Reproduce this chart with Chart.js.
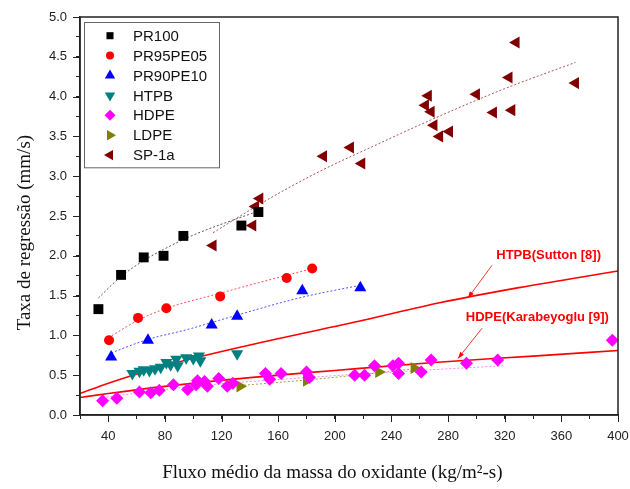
<!DOCTYPE html>
<html>
<head>
<meta charset="utf-8">
<script src="https://cdn.jsdelivr.net/npm/chart.js@4.4.1/dist/chart.umd.min.js"></script>
<style>
  html, body { margin: 0; padding: 0; background: #fff; }
  #wrap { width: 630px; height: 489px; }
</style>
</head>
<body>
<div id="wrap"><canvas id="regChart" width="630" height="489"></canvas></div>
<script>
// Measured points (x = oxidizer mass flux, y = regression rate)
const pr100X = [33, 49, 65, 79, 93, 134, 146];
const pr100Y = [1.33, 1.76, 1.98, 2.00, 2.25, 2.38, 2.55];

const pr95X = [40.5, 61, 81, 119, 166, 184];
const pr95Y = [0.94, 1.22, 1.34, 1.49, 1.72, 1.84];

const pr90X = [42, 68, 113, 131, 177, 218];
const pr90Y = [0.73, 0.94, 1.13, 1.24, 1.56, 1.60];

const htpbX = [57, 62, 65, 69, 73, 77, 81, 84, 88, 89, 95, 100, 104, 105, 131];
const htpbY = [0.52, 0.55, 0.57, 0.56, 0.58, 0.60, 0.66, 0.63, 0.70, 0.62, 0.72, 0.71, 0.74, 0.68, 0.77];

const hdpeX = [36, 46, 62, 70, 76, 86, 96, 102, 103, 108, 110, 118, 124, 128, 151, 154, 162, 180, 182, 214, 221, 228, 241, 245, 245, 261, 268, 293, 315, 396];
const hdpeY = [0.18, 0.21, 0.29, 0.28, 0.31, 0.38, 0.32, 0.38, 0.43, 0.42, 0.36, 0.46, 0.36, 0.40, 0.52, 0.45, 0.52, 0.54, 0.47, 0.50, 0.50, 0.62, 0.62, 0.65, 0.52, 0.54, 0.69, 0.65, 0.69, 0.94];

const ldpeX = [133, 180, 231, 256];
const ldpeY = [0.36, 0.43, 0.54, 0.59];

const spX = [114, 142, 144, 147, 192, 211, 219, 264, 266, 268, 270, 274, 281, 300, 312, 323, 325, 328, 370];
const spY = [2.13, 2.38, 2.62, 2.72, 3.25, 3.36, 3.16, 3.89, 4.01, 3.81, 3.64, 3.50, 3.56, 4.03, 3.80, 4.24, 3.83, 4.68, 4.17];

// Dotted fit curves
const fitPr100X = [33, 49, 65, 79, 100, 133, 146];
const fitPr100Y = [1.47, 1.74, 1.94, 2.08, 2.26, 2.48, 2.56];
const fitPr95X = [40, 61, 81, 119, 150, 184];
const fitPr95Y = [0.97, 1.19, 1.34, 1.53, 1.68, 1.84];
const fitPr90X = [42, 68, 95, 130, 177, 218];
const fitPr90Y = [0.78, 0.95, 1.07, 1.25, 1.48, 1.63];
const fitHdpeX = [36, 100, 180, 260, 320];
const fitHdpeY = [0.22, 0.36, 0.47, 0.56, 0.62];
const fitLdpeX = [133, 180, 231, 260];
const fitLdpeY = [0.37, 0.44, 0.53, 0.59];
const fitSpX = [114, 150, 187, 230, 272, 320, 370];
const fitSpY = [2.29, 2.68, 3.04, 3.40, 3.74, 4.10, 4.43];

// Literature correlations (solid red)
const suttonX = [20, 40, 80, 140, 220, 274, 330, 400];
const suttonY = [0.27, 0.40, 0.62, 0.88, 1.19, 1.41, 1.60, 1.81];
const karabX = [20, 40, 80, 140, 200, 270, 340, 400];
const karabY = [0.22, 0.27, 0.36, 0.47, 0.56, 0.66, 0.74, 0.81];

// Axis ranges / ticks
const xMin = 20, xMax = 400, xStep = 20, xLabelEvery = 40;
const yMin = 0, yMax = 5, yStep = 0.25, yLabelEvery = 0.5;

// Annotation labels: [text, labelX, labelY, arrowFromX, arrowFromY, arrowToX, arrowToY]
const notes = [
    ['HTPB(Sutton [8])', 351, 2.0, 311, 1.88, 294, 1.47],
    ['HDPE(Karabeyoglu [9])', 343, 1.22, 304, 1.09, 287, 0.71]
];

const sans = 'Liberation Sans, Arial, sans-serif';
const serif = 'Liberation Serif, Times New Roman, serif';

function pts(xs, ys) {
    return xs.map((x, i) => ({ x: x, y: ys[i] }));
}

function marker(label, xs, ys, color, style, radius, rotation, legendRadius) {
    return {
        type: 'scatter',
        label: label,
        data: pts(xs, ys),
        pointStyle: style,
        pointRadius: radius,
        pointRotation: rotation || 0,
        backgroundColor: color,
        borderColor: color,
        borderWidth: 0,
        pointHoverRadius: radius,
        legendRadius: legendRadius
    };
}

function curve(xs, ys, color, dashed, width) {
    return {
        type: 'line',
        label: '',
        data: pts(xs, ys),
        borderColor: color,
        borderWidth: width,
        borderDash: dashed ? [2, 2] : [],
        pointRadius: 0,
        fill: false,
        cubicInterpolationMode: 'monotone'
    };
}

// frame around plot, longer major ticks, boxed legend inside the plot, red annotations
const framePlugin = {
    id: 'frame',
    afterDraw(chart) {
        const ctx = chart.ctx;
        const a = chart.chartArea;
        const xs = chart.scales.x, ys = chart.scales.y;
        ctx.save();
        ctx.strokeStyle = '#222';
        ctx.lineWidth = 1.5;
        ctx.strokeRect(a.left, a.top, a.right - a.left, a.bottom - a.top);

        ctx.lineWidth = 1;
        ctx.beginPath();
        xs.ticks.forEach(t => {
            if (t.value % xLabelEvery === 0) {
                const px = Math.round(xs.getPixelForValue(t.value)) + 0.5;
                ctx.moveTo(px, a.bottom);
                ctx.lineTo(px, a.bottom + 7);
            }
        });
        ys.ticks.forEach(t => {
            const r = t.value / yLabelEvery;
            if (Math.abs(r - Math.round(r)) < 1e-6) {
                const py = Math.round(ys.getPixelForValue(t.value)) + 0.5;
                ctx.moveTo(a.left, py);
                ctx.lineTo(a.left - 7, py);
            }
        });
        ctx.stroke();

        // legend
        const items = chart.data.datasets.filter(d => d.type === 'scatter');
        const lx = a.left + 4, ly = a.top + 5, rowH = 19.9;
        ctx.strokeStyle = '#666';
        ctx.lineWidth = 1;
        ctx.strokeRect(lx + 0.5, ly + 0.5, 135, items.length * rowH + 6);
        ctx.font = '15px ' + sans;
        ctx.textBaseline = 'middle';
        ctx.textAlign = 'left';
        items.forEach((d, i) => {
            const cy = ly + 13.7 + i * rowH;
            ctx.fillStyle = d.backgroundColor;
            ctx.strokeStyle = d.borderColor;
            Chart.helpers.drawPoint(ctx, {
                pointStyle: d.pointStyle,
                rotation: d.pointRotation,
                radius: d.legendRadius,
                borderWidth: 0
            }, lx + 26, cy);
            ctx.fillStyle = '#111';
            ctx.fillText(d.label, lx + 49, cy + 1);
        });

        // annotations
        ctx.fillStyle = '#ff0000';
        ctx.strokeStyle = '#ff0000';
        ctx.font = 'bold 13px ' + sans;
        ctx.textAlign = 'center';
        notes.forEach(n => {
            ctx.fillText(n[0], xs.getPixelForValue(n[1]), ys.getPixelForValue(n[2]));
            const x1 = xs.getPixelForValue(n[3]), y1 = ys.getPixelForValue(n[4]);
            const x2 = xs.getPixelForValue(n[5]), y2 = ys.getPixelForValue(n[6]);
            ctx.lineWidth = 0.8;
            ctx.beginPath();
            ctx.moveTo(x1, y1);
            ctx.lineTo(x2, y2);
            ctx.stroke();
            const ang = Math.atan2(y2 - y1, x2 - x1);
            ctx.beginPath();
            ctx.moveTo(x2, y2);
            ctx.lineTo(x2 - 7 * Math.cos(ang - 0.35), y2 - 7 * Math.sin(ang - 0.35));
            ctx.lineTo(x2 - 7 * Math.cos(ang + 0.35), y2 - 7 * Math.sin(ang + 0.35));
            ctx.closePath();
            ctx.fill();
        });
        ctx.restore();
    }
};

document.addEventListener('DOMContentLoaded', function() {
    initRegressionChart();
});

function initRegressionChart() {
    const ctx = document.getElementById('regChart');
    if (!ctx) return;

    const datasets = [
        marker('PR100', pr100X, pr100Y, '#000000', 'rect', 7, 0, 5),
        marker('PR95PE05', pr95X, pr95Y, '#ff0000', 'circle', 5, 0, 4),
        marker('PR90PE10', pr90X, pr90Y, '#0000ff', 'triangle', 7, 0, 6),
        marker('HTPB', htpbX, htpbY, '#008080', 'triangle', 7, 180, 6),
        marker('HDPE', hdpeX, hdpeY, '#ff00ff', 'rectRot', 6.5, 0, 5.5),
        marker('LDPE', ldpeX, ldpeY, '#808000', 'triangle', 7, 90, 6),
        marker('SP-1a', spX, spY, '#800000', 'triangle', 7, 270, 6),
        curve(fitPr100X, fitPr100Y, '#555555', true, 1),
        curve(fitPr95X, fitPr95Y, '#ff5050', true, 1),
        curve(fitPr90X, fitPr90Y, '#5050ff', true, 1),
        curve(fitHdpeX, fitHdpeY, '#ff80ff', true, 1),
        curve(fitLdpeX, fitLdpeY, '#a0a040', true, 1),
        curve(fitSpX, fitSpY, '#b05050', true, 1),
        curve(suttonX, suttonY, '#ff0000', false, 1.6),
        curve(karabX, karabY, '#ff0000', false, 1.6)
    ];

    const chart = new Chart(ctx, {
        data: { datasets: datasets },
        options: {
            responsive: false,
            animation: false,
            layout: { padding: { top: 17, right: 12, left: 0, bottom: 0 } },
            plugins: {
                tooltip: { enabled: false },
                legend: { display: false }
            },
            scales: {
                x: {
                    type: 'linear',
                    position: 'bottom',
                    min: xMin,
                    max: xMax,
                    afterFit: s => { s.height = 74; s.paddingLeft = 0; s.paddingRight = 0; },
                    border: { display: true, color: '#222', width: 1.5 },
                    grid: { drawOnChartArea: false, drawTicks: true, tickLength: 4, color: '#222' },
                    ticks: {
                        stepSize: xStep,
                        autoSkip: false,
                        maxRotation: 0,
                        padding: 10,
                        color: '#222',
                        font: { family: sans, size: 13 },
                        callback: v => (v % xLabelEvery === 0 ? String(v) : '')
                    },
                    title: {
                        display: true,
                        text: 'Fluxo médio da massa do oxidante (kg/m²-s)       ',
                        color: '#111',
                        font: { family: serif, size: 19 },
                        padding: { top: 0, bottom: 5 }
                    }
                },
                y: {
                    type: 'linear',
                    min: yMin,
                    max: yMax,
                    afterFit: s => { s.width = 80; s.paddingTop = 0; s.paddingBottom = 0; },
                    border: { display: true, color: '#222', width: 1.5 },
                    grid: { drawOnChartArea: false, drawTicks: true, tickLength: 4, color: '#222' },
                    ticks: {
                        stepSize: yStep,
                        autoSkip: false,
                        padding: 9,
                        color: '#222',
                        font: { family: sans, size: 13 },
                        callback: v => (Math.abs(v / yLabelEvery - Math.round(v / yLabelEvery)) < 1e-6 ? v.toFixed(1) : '')
                    },
                    title: {
                        display: true,
                        text: 'Taxa de regressão (mm/s)       ',
                        color: '#111',
                        font: { family: serif, size: 19 },
                        padding: { top: 14, bottom: 0 }
                    }
                }
            }
        },
        plugins: [framePlugin]
    });

    window.regressionChart = chart;
}
</script>
</body>
</html>
